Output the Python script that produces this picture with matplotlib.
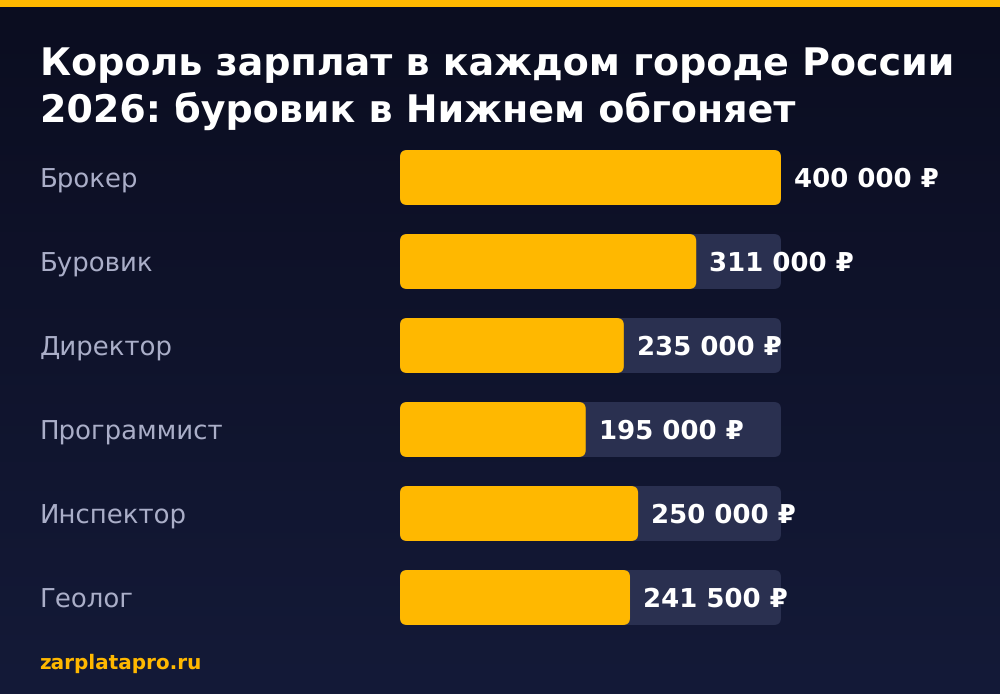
import numpy as np
from matplotlib import pyplot as plt
from matplotlib.patches import FancyBboxPatch, Rectangle

plt.rcParams['text.hinting'] = 'no_hinting'
plt.rcParams['text.hinting_factor'] = 1

professions = ['Брокер', 'Буровик', 'Директор', 'Программист', 'Инспектор', 'Геолог']
salaries = [400000, 311000, 235000, 195000, 250000, 241500]
salary_labels = ['400 000 ₽', '311 000 ₽', '235 000 ₽', '195 000 ₽', '250 000 ₽', '241 500 ₽']
title_lines = ['Король зарплат в каждом городе России', '2026: буровик в Нижнем обгоняет']
site = 'zarplatapro.ru'
max_salary = 400000

ORANGE = '#FFB800'
TRACK = '#2A3050'

fig = plt.figure(figsize=(10, 6.94), dpi=100)
ax = fig.add_axes([0, 0, 1, 1])
ax.set_xlim(0, 1000)
ax.set_ylim(694, 0)
ax.axis('off')

# fond en degrade + bande du haut
grad = np.linspace(0, 1, 256).reshape(-1, 1)
top = np.array([11, 13, 32]) / 255
bottom = np.array([20, 26, 56]) / 255
ax.imshow(top + grad[..., None] * (bottom - top), extent=[0, 1000, 694, 0], aspect='auto', zorder=0)
ax.add_patch(Rectangle((0, 0), 1000, 7, color=ORANGE, lw=0, zorder=1))

ax.text(40, 75, title_lines[0], color='white', fontsize=27.4, fontweight='bold', va='baseline')
ax.text(40, 122, title_lines[1], color='white', fontsize=27.4, fontweight='bold', va='baseline')

bar_x = 400
bar_w = 381
bar_h = 55
rad = 7
for i, (name, val, lab) in enumerate(zip(professions, salaries, salary_labels)):
    y = 150 + i * 84
    w = bar_w * val / max_salary
    for width, col, z in [(bar_w, TRACK, 2), (w, ORANGE, 3)]:
        ax.add_patch(FancyBboxPatch((bar_x + rad, y + rad), width - 2 * rad, bar_h - 2 * rad,
                                    boxstyle=f'round,pad={rad},rounding_size={rad}', fc=col, ec='none', zorder=z))
    ax.text(39.5, y + 38, name, color='#AAAEC8', fontsize=18.7, va='baseline', zorder=4)
    ax.text(bar_x + w + 13, y + 37, lab, color='white', fontsize=18.7, fontweight='bold', va='baseline', zorder=4)

ax.text(39.5, 669, site, color=ORANGE, fontsize=14.4, fontweight='bold', va='baseline')

fig.savefig('out.png', dpi=100)
